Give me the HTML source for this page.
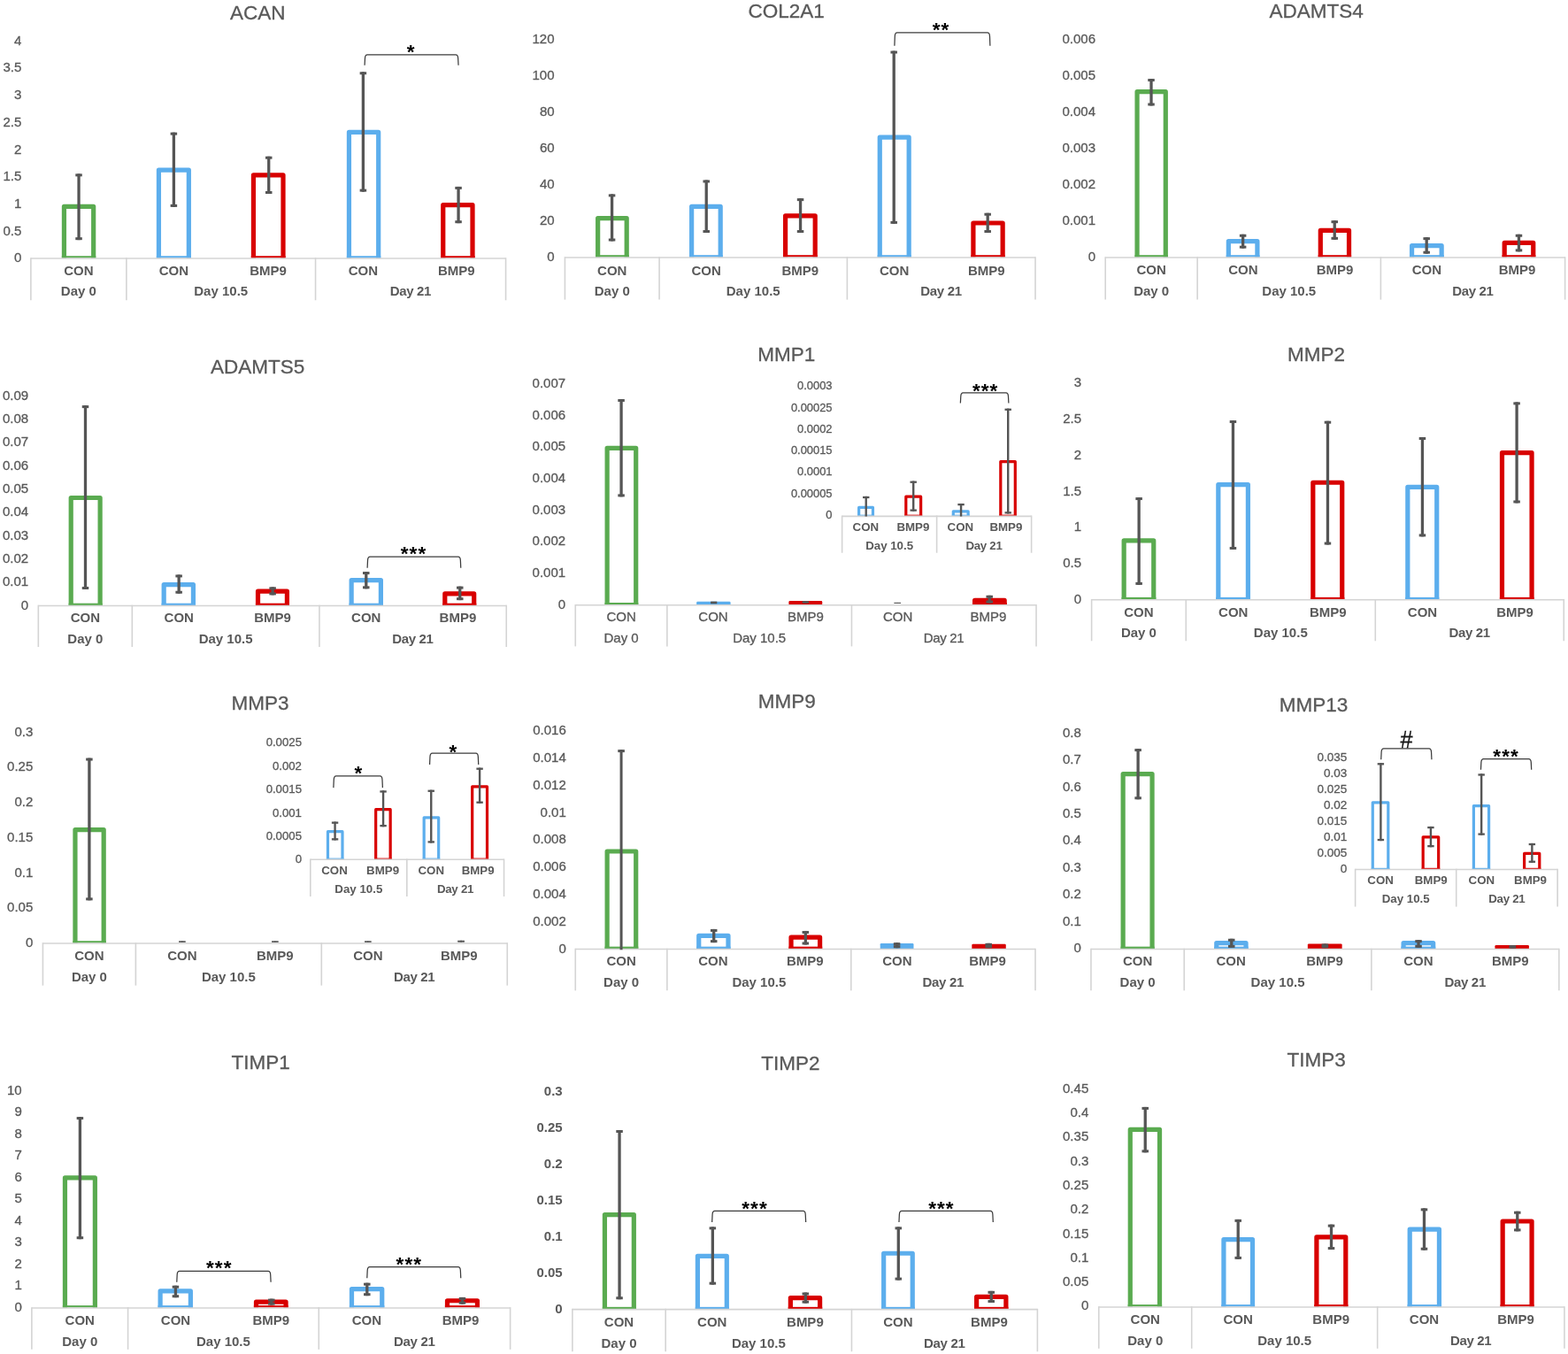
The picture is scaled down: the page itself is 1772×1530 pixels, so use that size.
<!DOCTYPE html>
<html lang="en">
<head>
<meta charset="utf-8">
<title>Gene expression charts</title>
<style>
html,body{margin:0;padding:0;background:#fff;}
body{width:1772px;height:1530px;overflow:hidden;}
svg{display:block;font-family:'Liberation Sans', Arial, Helvetica, sans-serif;filter:blur(0.35px);}
text{white-space:pre;}
</style>
</head>
<body>
<svg width="1772" height="1530" viewBox="0 0 1772 1530">
<rect width="1772" height="1530" fill="#fff"/>
<g>
<text x="24.38" y="50.78" font-size="15" text-anchor="end" fill="#595959" stroke="#595959" stroke-width="0.3">4</text>
<text x="24.38" y="81.47" font-size="15" text-anchor="end" fill="#595959" stroke="#595959" stroke-width="0.3">3.5</text>
<text x="24.38" y="112.15" font-size="15" text-anchor="end" fill="#595959" stroke="#595959" stroke-width="0.3">3</text>
<text x="24.38" y="142.84" font-size="15" text-anchor="end" fill="#595959" stroke="#595959" stroke-width="0.3">2.5</text>
<text x="24.38" y="173.53" font-size="15" text-anchor="end" fill="#595959" stroke="#595959" stroke-width="0.3">2</text>
<text x="24.38" y="204.21" font-size="15" text-anchor="end" fill="#595959" stroke="#595959" stroke-width="0.3">1.5</text>
<text x="24.38" y="234.9" font-size="15" text-anchor="end" fill="#595959" stroke="#595959" stroke-width="0.3">1</text>
<text x="24.38" y="265.58" font-size="15" text-anchor="end" fill="#595959" stroke="#595959" stroke-width="0.3">0.5</text>
<text x="24.38" y="296.27" font-size="15" text-anchor="end" fill="#595959" stroke="#595959" stroke-width="0.3">0</text>
<path d="M72.43 292.04V233.37H105.68V292.04" fill="none" stroke="#5aab50" stroke-width="5.2" stroke-linejoin="round"/>
<rect x="69.83" y="289.24" width="38.45" height="2.3" fill="#5aab50"/>
<path d="M179.43 292.04V192.06H213.35V292.04" fill="none" stroke="#5caeed" stroke-width="5.2" stroke-linejoin="round"/>
<rect x="176.83" y="289.24" width="39.12" height="2.3" fill="#5caeed"/>
<path d="M286.43 292.04V197.81H320.01V292.04" fill="none" stroke="#d80000" stroke-width="5.2" stroke-linejoin="round"/>
<rect x="283.83" y="289.24" width="38.79" height="2.3" fill="#d80000"/>
<path d="M394.44 292.04V149.39H427.69V292.04" fill="none" stroke="#5caeed" stroke-width="5.2" stroke-linejoin="round"/>
<rect x="391.84" y="289.24" width="38.45" height="2.3" fill="#5caeed"/>
<path d="M500.76 292.04V231.67H534.01V292.04" fill="none" stroke="#d80000" stroke-width="5.2" stroke-linejoin="round"/>
<rect x="498.16" y="289.24" width="38.45" height="2.3" fill="#d80000"/>
<line x1="34.88" y1="292.04" x2="571.56" y2="292.04" stroke="#d4d4d4" stroke-width="1.6"/>
<line x1="34.88" y1="291.24" x2="34.88" y2="339.28" stroke="#d4d4d4" stroke-width="1.6"/>
<line x1="142.89" y1="291.24" x2="142.89" y2="339.28" stroke="#d4d4d4" stroke-width="1.6"/>
<line x1="356.55" y1="291.24" x2="356.55" y2="339.28" stroke="#d4d4d4" stroke-width="1.6"/>
<line x1="571.56" y1="291.24" x2="571.56" y2="339.28" stroke="#d4d4d4" stroke-width="1.6"/>
<line x1="89.05" y1="196.37" x2="89.05" y2="271.17" stroke="#555555" stroke-width="3.3"/>
<rect x="85.3" y="196.37" width="7.5" height="3" fill="#555555"/>
<rect x="85.3" y="268.17" width="7.5" height="3" fill="#555555"/>
<line x1="196.39" y1="149.64" x2="196.39" y2="233.92" stroke="#555555" stroke-width="3.3"/>
<rect x="192.64" y="149.64" width="7.5" height="3" fill="#555555"/>
<rect x="192.64" y="230.92" width="7.5" height="3" fill="#555555"/>
<line x1="303.73" y1="176.73" x2="303.73" y2="219.02" stroke="#555555" stroke-width="3.3"/>
<rect x="299.98" y="176.73" width="7.5" height="3" fill="#555555"/>
<rect x="299.98" y="216.02" width="7.5" height="3" fill="#555555"/>
<line x1="410.39" y1="81.24" x2="410.39" y2="216.65" stroke="#555555" stroke-width="3.3"/>
<rect x="406.64" y="81.24" width="7.5" height="3" fill="#555555"/>
<rect x="406.64" y="213.65" width="7.5" height="3" fill="#555555"/>
<line x1="518.06" y1="210.93" x2="518.06" y2="252.21" stroke="#555555" stroke-width="3.3"/>
<rect x="514.31" y="210.93" width="7.5" height="3" fill="#555555"/>
<rect x="514.31" y="249.21" width="7.5" height="3" fill="#555555"/>
<text x="88.88" y="310.73" font-size="15" text-anchor="middle" fill="#595959" font-weight="700">CON</text>
<text x="196.31" y="310.73" font-size="15" text-anchor="middle" fill="#595959" font-weight="700">CON</text>
<text x="303.14" y="310.73" font-size="15" text-anchor="middle" fill="#595959" font-weight="700">BMP9</text>
<text x="410.3" y="310.73" font-size="15" text-anchor="middle" fill="#595959" font-weight="700">CON</text>
<text x="515.81" y="310.73" font-size="15" text-anchor="middle" fill="#595959" font-weight="700">BMP9</text>
<text x="88.88" y="334.43" font-size="15" text-anchor="middle" fill="#595959" font-weight="700">Day 0</text>
<text x="249.72" y="334.43" font-size="15" text-anchor="middle" fill="#595959" font-weight="700">Day 10.5</text>
<text x="463.89" y="334.43" font-size="15" text-anchor="middle" fill="#595959" font-weight="700" letter-spacing="-0.33">Day 21</text>
<path d="M412.08 73.82L412.48 65.96Q412.68 61.96 415.08 61.96H515.06Q517.46 61.96 517.66 65.96L518.06 73.82" fill="none" stroke="#3c3c3c" stroke-width="1.25"/>
<text x="464.78" y="66.46" font-size="22.5" letter-spacing="1.1" text-anchor="middle" fill="#000" font-weight="700">*</text>
<text x="291.2" y="22.48" font-size="22.5" text-anchor="middle" fill="#595959" stroke="#595959" stroke-width="0.3">ACAN</text>
</g>
<g>
<text x="626.57" y="49.43" font-size="15" text-anchor="end" fill="#595959" stroke="#595959" stroke-width="0.3">120</text>
<text x="626.57" y="90.4" font-size="15" text-anchor="end" fill="#595959" stroke="#595959" stroke-width="0.3">100</text>
<text x="626.57" y="131.37" font-size="15" text-anchor="end" fill="#595959" stroke="#595959" stroke-width="0.3">80</text>
<text x="626.57" y="172.34" font-size="15" text-anchor="end" fill="#595959" stroke="#595959" stroke-width="0.3">60</text>
<text x="626.57" y="213.31" font-size="15" text-anchor="end" fill="#595959" stroke="#595959" stroke-width="0.3">40</text>
<text x="626.57" y="254.28" font-size="15" text-anchor="end" fill="#595959" stroke="#595959" stroke-width="0.3">20</text>
<text x="626.57" y="295.25" font-size="15" text-anchor="end" fill="#595959" stroke="#595959" stroke-width="0.3">0</text>
<path d="M675.64 291.02V246.57H708.2V291.02" fill="none" stroke="#5aab50" stroke-width="5.2" stroke-linejoin="round"/>
<rect x="673.04" y="288.22" width="37.77" height="2.3" fill="#5aab50"/>
<path d="M781.62 291.02V233.37H814.19V291.02" fill="none" stroke="#5caeed" stroke-width="5.2" stroke-linejoin="round"/>
<rect x="779.02" y="288.22" width="37.77" height="2.3" fill="#5caeed"/>
<path d="M887.6 291.02V243.86H921.19V291.02" fill="none" stroke="#d80000" stroke-width="5.2" stroke-linejoin="round"/>
<rect x="885" y="288.22" width="38.79" height="2.3" fill="#d80000"/>
<path d="M994.26 291.02V155.15H1027.17V291.02" fill="none" stroke="#5caeed" stroke-width="5.2" stroke-linejoin="round"/>
<rect x="991.66" y="288.22" width="38.11" height="2.3" fill="#5caeed"/>
<path d="M1099.91 291.02V251.99H1133.15V291.02" fill="none" stroke="#d80000" stroke-width="5.2" stroke-linejoin="round"/>
<rect x="1097.31" y="288.22" width="38.45" height="2.3" fill="#d80000"/>
<line x1="638.42" y1="291.02" x2="1170.03" y2="291.02" stroke="#d4d4d4" stroke-width="1.6"/>
<line x1="638.42" y1="290.22" x2="638.42" y2="338.6" stroke="#d4d4d4" stroke-width="1.6"/>
<line x1="745.08" y1="290.22" x2="745.08" y2="338.6" stroke="#d4d4d4" stroke-width="1.6"/>
<line x1="957.39" y1="290.22" x2="957.39" y2="338.6" stroke="#d4d4d4" stroke-width="1.6"/>
<line x1="1170.03" y1="290.22" x2="1170.03" y2="338.6" stroke="#d4d4d4" stroke-width="1.6"/>
<line x1="691.58" y1="219.39" x2="691.58" y2="272.52" stroke="#555555" stroke-width="3.3"/>
<rect x="687.83" y="219.39" width="7.5" height="3" fill="#555555"/>
<rect x="687.83" y="269.52" width="7.5" height="3" fill="#555555"/>
<line x1="798.24" y1="203.48" x2="798.24" y2="263.04" stroke="#555555" stroke-width="3.3"/>
<rect x="794.49" y="203.48" width="7.5" height="3" fill="#555555"/>
<rect x="794.49" y="260.04" width="7.5" height="3" fill="#555555"/>
<line x1="904.56" y1="224.13" x2="904.56" y2="263.04" stroke="#555555" stroke-width="3.3"/>
<rect x="900.81" y="224.13" width="7.5" height="3" fill="#555555"/>
<rect x="900.81" y="260.04" width="7.5" height="3" fill="#555555"/>
<line x1="1010.21" y1="57.54" x2="1010.21" y2="252.88" stroke="#555555" stroke-width="3.3"/>
<rect x="1006.46" y="57.54" width="7.5" height="3" fill="#555555"/>
<rect x="1006.46" y="249.88" width="7.5" height="3" fill="#555555"/>
<line x1="1116.19" y1="240.72" x2="1116.19" y2="263.04" stroke="#555555" stroke-width="3.3"/>
<rect x="1112.44" y="240.72" width="7.5" height="3" fill="#555555"/>
<rect x="1112.44" y="260.04" width="7.5" height="3" fill="#555555"/>
<text x="691.75" y="310.73" font-size="15" text-anchor="middle" fill="#595959" font-weight="700">CON</text>
<text x="798.16" y="310.73" font-size="15" text-anchor="middle" fill="#595959" font-weight="700">CON</text>
<text x="904.31" y="310.73" font-size="15" text-anchor="middle" fill="#595959" font-weight="700">BMP9</text>
<text x="1010.55" y="310.73" font-size="15" text-anchor="middle" fill="#595959" font-weight="700">CON</text>
<text x="1114.87" y="310.73" font-size="15" text-anchor="middle" fill="#595959" font-weight="700">BMP9</text>
<text x="691.75" y="333.75" font-size="15" text-anchor="middle" fill="#595959" font-weight="700">Day 0</text>
<text x="851.23" y="333.75" font-size="15" text-anchor="middle" fill="#595959" font-weight="700">Day 10.5</text>
<text x="1063.54" y="333.75" font-size="15" text-anchor="middle" fill="#595959" font-weight="700" letter-spacing="-0.33">Day 21</text>
<path d="M1010.89 51.81L1011.29 40.91Q1011.49 36.91 1013.89 36.91H1115.9Q1118.3 36.91 1118.5 40.91L1118.9 51.81" fill="none" stroke="#3c3c3c" stroke-width="1.25"/>
<text x="1063.58" y="40.73" font-size="22.5" letter-spacing="1.1" text-anchor="middle" fill="#000" font-weight="700">**</text>
<text x="888.65" y="20.11" font-size="22.5" text-anchor="middle" fill="#595959" stroke="#595959" stroke-width="0.3">COL2A1</text>
</g>
<g>
<text x="1238.03" y="49.09" font-size="15" text-anchor="end" fill="#595959" stroke="#595959" stroke-width="0.3">0.006</text>
<text x="1238.03" y="90.12" font-size="15" text-anchor="end" fill="#595959" stroke="#595959" stroke-width="0.3">0.005</text>
<text x="1238.03" y="131.14" font-size="15" text-anchor="end" fill="#595959" stroke="#595959" stroke-width="0.3">0.004</text>
<text x="1238.03" y="172.17" font-size="15" text-anchor="end" fill="#595959" stroke="#595959" stroke-width="0.3">0.003</text>
<text x="1238.03" y="213.2" font-size="15" text-anchor="end" fill="#595959" stroke="#595959" stroke-width="0.3">0.002</text>
<text x="1238.03" y="254.23" font-size="15" text-anchor="end" fill="#595959" stroke="#595959" stroke-width="0.3">0.001</text>
<text x="1238.03" y="295.25" font-size="15" text-anchor="end" fill="#595959" stroke="#595959" stroke-width="0.3">0</text>
<path d="M1285.06 291.02V103.68H1317.29V291.02" fill="none" stroke="#5aab50" stroke-width="5.2" stroke-linejoin="round"/>
<rect x="1282.46" y="288.22" width="37.43" height="2.3" fill="#5aab50"/>
<path d="M1388.34 291.02V272.64H1420.91V291.02" fill="none" stroke="#5caeed" stroke-width="5.2" stroke-linejoin="round"/>
<rect x="1385.74" y="288.22" width="37.77" height="2.3" fill="#5caeed"/>
<path d="M1492.29 291.02V260.46H1524.52V291.02" fill="none" stroke="#d80000" stroke-width="5.2" stroke-linejoin="round"/>
<rect x="1489.69" y="288.22" width="37.43" height="2.3" fill="#d80000"/>
<path d="M1595.56 291.02V277.72H1629.15V291.02" fill="none" stroke="#5caeed" stroke-width="5.2" stroke-linejoin="round"/>
<rect x="1592.96" y="288.22" width="38.79" height="2.3" fill="#5caeed"/>
<path d="M1700.19 291.02V274.34H1732.76V291.02" fill="none" stroke="#d80000" stroke-width="5.2" stroke-linejoin="round"/>
<rect x="1697.59" y="288.22" width="37.77" height="2.3" fill="#d80000"/>
<line x1="1249.2" y1="291.02" x2="1768.62" y2="291.02" stroke="#d4d4d4" stroke-width="1.6"/>
<line x1="1249.2" y1="290.22" x2="1249.2" y2="338.6" stroke="#d4d4d4" stroke-width="1.6"/>
<line x1="1353.15" y1="290.22" x2="1353.15" y2="338.6" stroke="#d4d4d4" stroke-width="1.6"/>
<line x1="1560.38" y1="290.22" x2="1560.38" y2="338.6" stroke="#d4d4d4" stroke-width="1.6"/>
<line x1="1768.62" y1="290.22" x2="1768.62" y2="338.6" stroke="#d4d4d4" stroke-width="1.6"/>
<line x1="1301.01" y1="89.03" x2="1301.01" y2="119.47" stroke="#555555" stroke-width="3.3"/>
<rect x="1297.26" y="89.03" width="7.5" height="3" fill="#555555"/>
<rect x="1297.26" y="116.47" width="7.5" height="3" fill="#555555"/>
<line x1="1404.62" y1="264.77" x2="1404.62" y2="280.65" stroke="#555555" stroke-width="3.3"/>
<rect x="1400.87" y="264.77" width="7.5" height="3" fill="#555555"/>
<rect x="1400.87" y="277.65" width="7.5" height="3" fill="#555555"/>
<line x1="1508.23" y1="249.19" x2="1508.23" y2="270.83" stroke="#555555" stroke-width="3.3"/>
<rect x="1504.48" y="249.19" width="7.5" height="3" fill="#555555"/>
<rect x="1504.48" y="267.83" width="7.5" height="3" fill="#555555"/>
<line x1="1612.19" y1="268.15" x2="1612.19" y2="286.74" stroke="#555555" stroke-width="3.3"/>
<rect x="1608.44" y="268.15" width="7.5" height="3" fill="#555555"/>
<rect x="1608.44" y="283.74" width="7.5" height="3" fill="#555555"/>
<line x1="1716.48" y1="264.77" x2="1716.48" y2="284.37" stroke="#555555" stroke-width="3.3"/>
<rect x="1712.73" y="264.77" width="7.5" height="3" fill="#555555"/>
<rect x="1712.73" y="281.37" width="7.5" height="3" fill="#555555"/>
<text x="1301.18" y="310.05" font-size="15" text-anchor="middle" fill="#595959" font-weight="700">CON</text>
<text x="1404.96" y="310.05" font-size="15" text-anchor="middle" fill="#595959" font-weight="700">CON</text>
<text x="1508.57" y="310.05" font-size="15" text-anchor="middle" fill="#595959" font-weight="700">BMP9</text>
<text x="1612.44" y="310.05" font-size="15" text-anchor="middle" fill="#595959" font-weight="700">CON</text>
<text x="1714.56" y="310.05" font-size="15" text-anchor="middle" fill="#595959" font-weight="700">BMP9</text>
<text x="1301.18" y="333.75" font-size="15" text-anchor="middle" fill="#595959" font-weight="700">Day 0</text>
<text x="1456.77" y="333.75" font-size="15" text-anchor="middle" fill="#595959" font-weight="700">Day 10.5</text>
<text x="1664.33" y="333.75" font-size="15" text-anchor="middle" fill="#595959" font-weight="700" letter-spacing="-0.33">Day 21</text>
<text x="1487.58" y="20.11" font-size="22.5" text-anchor="middle" fill="#595959" stroke="#595959" stroke-width="0.3">ADAMTS4</text>
</g>
<g>
<text x="32.17" y="451.7" font-size="15" text-anchor="end" fill="#595959" stroke="#595959" stroke-width="0.3">0.09</text>
<text x="32.17" y="478.03" font-size="15" text-anchor="end" fill="#595959" stroke="#595959" stroke-width="0.3">0.08</text>
<text x="32.17" y="504.37" font-size="15" text-anchor="end" fill="#595959" stroke="#595959" stroke-width="0.3">0.07</text>
<text x="32.17" y="530.7" font-size="15" text-anchor="end" fill="#595959" stroke="#595959" stroke-width="0.3">0.06</text>
<text x="32.17" y="557.04" font-size="15" text-anchor="end" fill="#595959" stroke="#595959" stroke-width="0.3">0.05</text>
<text x="32.17" y="583.38" font-size="15" text-anchor="end" fill="#595959" stroke="#595959" stroke-width="0.3">0.04</text>
<text x="32.17" y="609.71" font-size="15" text-anchor="end" fill="#595959" stroke="#595959" stroke-width="0.3">0.03</text>
<text x="32.17" y="636.05" font-size="15" text-anchor="end" fill="#595959" stroke="#595959" stroke-width="0.3">0.02</text>
<text x="32.17" y="662.38" font-size="15" text-anchor="end" fill="#595959" stroke="#595959" stroke-width="0.3">0.01</text>
<text x="32.17" y="688.72" font-size="15" text-anchor="end" fill="#595959" stroke="#595959" stroke-width="0.3">0</text>
<path d="M80.22 684.49V562.5H113.13V684.49" fill="none" stroke="#5aab50" stroke-width="5.2" stroke-linejoin="round"/>
<rect x="77.62" y="681.69" width="38.11" height="2.3" fill="#5aab50"/>
<path d="M185.18 684.49V660.69H218.43V684.49" fill="none" stroke="#5caeed" stroke-width="5.2" stroke-linejoin="round"/>
<rect x="182.58" y="681.69" width="38.45" height="2.3" fill="#5caeed"/>
<path d="M291.51 684.49V668.14H324.41V684.49" fill="none" stroke="#d80000" stroke-width="5.2" stroke-linejoin="round"/>
<rect x="288.91" y="681.69" width="38.11" height="2.3" fill="#d80000"/>
<path d="M397.15 684.49V655.61H430.4V684.49" fill="none" stroke="#5caeed" stroke-width="5.2" stroke-linejoin="round"/>
<rect x="394.55" y="681.69" width="38.45" height="2.3" fill="#5caeed"/>
<path d="M502.8 684.49V670.85H535.7V684.49" fill="none" stroke="#d80000" stroke-width="5.2" stroke-linejoin="round"/>
<rect x="500.2" y="681.69" width="38.11" height="2.3" fill="#d80000"/>
<line x1="43.34" y1="684.49" x2="572.24" y2="684.49" stroke="#d4d4d4" stroke-width="1.6"/>
<line x1="43.34" y1="683.69" x2="43.34" y2="731.05" stroke="#d4d4d4" stroke-width="1.6"/>
<line x1="149.32" y1="683.69" x2="149.32" y2="731.05" stroke="#d4d4d4" stroke-width="1.6"/>
<line x1="360.95" y1="683.69" x2="360.95" y2="731.05" stroke="#d4d4d4" stroke-width="1.6"/>
<line x1="572.24" y1="683.69" x2="572.24" y2="731.05" stroke="#d4d4d4" stroke-width="1.6"/>
<line x1="96.5" y1="458.12" x2="96.5" y2="665.99" stroke="#555555" stroke-width="3.3"/>
<rect x="92.75" y="458.12" width="7.5" height="3" fill="#555555"/>
<rect x="92.75" y="662.99" width="7.5" height="3" fill="#555555"/>
<line x1="202.15" y1="649.43" x2="202.15" y2="670.73" stroke="#555555" stroke-width="3.3"/>
<rect x="198.4" y="649.43" width="7.5" height="3" fill="#555555"/>
<rect x="198.4" y="667.73" width="7.5" height="3" fill="#555555"/>
<line x1="308.13" y1="663.31" x2="308.13" y2="672.42" stroke="#555555" stroke-width="3.3"/>
<rect x="304.38" y="663.31" width="7.5" height="3" fill="#555555"/>
<rect x="304.38" y="669.42" width="7.5" height="3" fill="#555555"/>
<line x1="413.77" y1="646.04" x2="413.77" y2="665.31" stroke="#555555" stroke-width="3.3"/>
<rect x="410.02" y="646.04" width="7.5" height="3" fill="#555555"/>
<rect x="410.02" y="662.31" width="7.5" height="3" fill="#555555"/>
<line x1="519.76" y1="662.63" x2="519.76" y2="678.18" stroke="#555555" stroke-width="3.3"/>
<rect x="516.01" y="662.63" width="7.5" height="3" fill="#555555"/>
<rect x="516.01" y="675.18" width="7.5" height="3" fill="#555555"/>
<text x="96.33" y="703.18" font-size="15" text-anchor="middle" fill="#595959" font-weight="700">CON</text>
<text x="202.23" y="703.18" font-size="15" text-anchor="middle" fill="#595959" font-weight="700">CON</text>
<text x="308.05" y="703.18" font-size="15" text-anchor="middle" fill="#595959" font-weight="700">BMP9</text>
<text x="413.77" y="703.18" font-size="15" text-anchor="middle" fill="#595959" font-weight="700">CON</text>
<text x="517.42" y="703.18" font-size="15" text-anchor="middle" fill="#595959" font-weight="700">BMP9</text>
<text x="96.33" y="727.22" font-size="15" text-anchor="middle" fill="#595959" font-weight="700">Day 0</text>
<text x="255.14" y="727.22" font-size="15" text-anchor="middle" fill="#595959" font-weight="700">Day 10.5</text>
<text x="466.43" y="727.22" font-size="15" text-anchor="middle" fill="#595959" font-weight="700" letter-spacing="-0.33">Day 21</text>
<path d="M415.13 641.66L415.53 633.13Q415.73 629.13 418.13 629.13H517.77Q520.17 629.13 520.37 633.13L520.77 641.66" fill="none" stroke="#3c3c3c" stroke-width="1.25"/>
<text x="467.49" y="632.62" font-size="22.5" letter-spacing="1.1" text-anchor="middle" fill="#000" font-weight="700">***</text>
<text x="291.2" y="422.04" font-size="22.5" text-anchor="middle" fill="#595959" stroke="#595959" stroke-width="0.3">ADAMTS5</text>
</g>
<g>
<text x="639.1" y="438.15" font-size="15" text-anchor="end" fill="#595959" stroke="#595959" stroke-width="0.3">0.007</text>
<text x="639.1" y="473.8" font-size="15" text-anchor="end" fill="#595959" stroke="#595959" stroke-width="0.3">0.006</text>
<text x="639.1" y="509.45" font-size="15" text-anchor="end" fill="#595959" stroke="#595959" stroke-width="0.3">0.005</text>
<text x="639.1" y="545.1" font-size="15" text-anchor="end" fill="#595959" stroke="#595959" stroke-width="0.3">0.004</text>
<text x="639.1" y="580.75" font-size="15" text-anchor="end" fill="#595959" stroke="#595959" stroke-width="0.3">0.003</text>
<text x="639.1" y="616.4" font-size="15" text-anchor="end" fill="#595959" stroke="#595959" stroke-width="0.3">0.002</text>
<text x="639.1" y="652.05" font-size="15" text-anchor="end" fill="#595959" stroke="#595959" stroke-width="0.3">0.001</text>
<text x="639.1" y="687.7" font-size="15" text-anchor="end" fill="#595959" stroke="#595959" stroke-width="0.3">0</text>
<path d="M686.13 683.81V506.29H718.7V683.81" fill="none" stroke="#5aab50" stroke-width="5.2" stroke-linejoin="round"/>
<rect x="683.53" y="681.01" width="37.77" height="2.3" fill="#5aab50"/>
<rect x="787.14" y="679.76" width="38.45" height="4.05" rx="1.2" fill="#5caeed"/>
<rect x="891.44" y="679.09" width="37.77" height="4.72" rx="1.2" fill="#d80000"/>
<path d="M1101.6 683.81V678.3H1135.18V683.81" fill="none" stroke="#d80000" stroke-width="5.2" stroke-linejoin="round"/>
<rect x="1099" y="681.01" width="38.79" height="2.3" fill="#d80000"/>
<line x1="650.27" y1="683.81" x2="1171.04" y2="683.81" stroke="#d4d4d4" stroke-width="1.6"/>
<line x1="650.27" y1="683.01" x2="650.27" y2="730.38" stroke="#d4d4d4" stroke-width="1.6"/>
<line x1="753.88" y1="683.01" x2="753.88" y2="730.38" stroke="#d4d4d4" stroke-width="1.6"/>
<line x1="962.46" y1="683.01" x2="962.46" y2="730.38" stroke="#d4d4d4" stroke-width="1.6"/>
<line x1="1171.04" y1="683.01" x2="1171.04" y2="730.38" stroke="#d4d4d4" stroke-width="1.6"/>
<line x1="702.08" y1="451.01" x2="702.08" y2="561.36" stroke="#555555" stroke-width="3.3"/>
<rect x="698.33" y="451.01" width="7.5" height="3" fill="#555555"/>
<rect x="698.33" y="558.36" width="7.5" height="3" fill="#555555"/>
<line x1="806.71" y1="680.26" x2="806.71" y2="681.62" stroke="#555555" stroke-width="2"/>
<rect x="803.21" y="680.26" width="7" height="2" fill="#555555"/>
<rect x="803.21" y="679.62" width="7" height="2" fill="#555555"/>
<line x1="910.32" y1="679.25" x2="910.32" y2="681.62" stroke="#555555" stroke-width="2"/>
<rect x="906.82" y="679.25" width="7" height="2" fill="#555555"/>
<rect x="906.82" y="679.62" width="7" height="2" fill="#555555"/>
<line x1="1014.27" y1="680.94" x2="1014.27" y2="681.79" stroke="#555555" stroke-width="0.9"/>
<rect x="1010.52" y="680.94" width="7.5" height="0.9" fill="#555555"/>
<rect x="1010.52" y="680.89" width="7.5" height="0.9" fill="#555555"/>
<line x1="1118.22" y1="672.79" x2="1118.22" y2="681.56" stroke="#555555" stroke-width="3.3"/>
<rect x="1114.47" y="672.79" width="7.5" height="3" fill="#555555"/>
<rect x="1114.47" y="678.56" width="7.5" height="3" fill="#555555"/>
<text x="702.08" y="701.66" font-size="15" text-anchor="middle" fill="#595959" stroke="#595959" stroke-width="0.3">CON</text>
<text x="806.03" y="701.66" font-size="15" text-anchor="middle" fill="#595959" stroke="#595959" stroke-width="0.3">CON</text>
<text x="910.32" y="701.66" font-size="15" text-anchor="middle" fill="#595959" stroke="#595959" stroke-width="0.3">BMP9</text>
<text x="1014.61" y="701.66" font-size="15" text-anchor="middle" fill="#595959" stroke="#595959" stroke-width="0.3">CON</text>
<text x="1116.9" y="701.66" font-size="15" text-anchor="middle" fill="#595959" stroke="#595959" stroke-width="0.3">BMP9</text>
<text x="702.08" y="726.03" font-size="15" text-anchor="middle" fill="#595959" stroke="#595959" stroke-width="0.3">Day 0</text>
<text x="858.17" y="726.03" font-size="15" text-anchor="middle" fill="#595959" stroke="#595959" stroke-width="0.3">Day 10.5</text>
<text x="1066.59" y="726.03" font-size="15" text-anchor="middle" fill="#595959" stroke="#595959" stroke-width="0.3" letter-spacing="-0.33">Day 21</text>
<text x="888.65" y="408.49" font-size="22.5" text-anchor="middle" fill="#595959" stroke="#595959" stroke-width="0.3">MMP1</text>
</g>
<g>
<text x="940.53" y="440.29" font-size="12.9" text-anchor="end" fill="#595959" stroke="#595959" stroke-width="0.3">0.0003</text>
<text x="940.53" y="464.55" font-size="12.9" text-anchor="end" fill="#595959" stroke="#595959" stroke-width="0.3">0.00025</text>
<text x="940.53" y="488.82" font-size="12.9" text-anchor="end" fill="#595959" stroke="#595959" stroke-width="0.3">0.0002</text>
<text x="940.53" y="513.09" font-size="12.9" text-anchor="end" fill="#595959" stroke="#595959" stroke-width="0.3">0.00015</text>
<text x="940.53" y="537.35" font-size="12.9" text-anchor="end" fill="#595959" stroke="#595959" stroke-width="0.3">0.0001</text>
<text x="940.53" y="561.62" font-size="12.9" text-anchor="end" fill="#595959" stroke="#595959" stroke-width="0.3">0.00005</text>
<text x="940.53" y="585.89" font-size="12.9" text-anchor="end" fill="#595959" stroke="#595959" stroke-width="0.3">0</text>
<path d="M970.64 583.34V573.41H986.46V583.34" fill="none" stroke="#5caeed" stroke-width="3.2" stroke-linejoin="round"/>
<rect x="969.04" y="581.64" width="19.02" height="1.2" fill="#5caeed"/>
<path d="M1023.8 583.34V561.22H1040.64V583.34" fill="none" stroke="#d80000" stroke-width="3.2" stroke-linejoin="round"/>
<rect x="1022.2" y="581.64" width="20.04" height="1.2" fill="#d80000"/>
<path d="M1077.3 583.34V577.81H1094.14V583.34" fill="none" stroke="#5caeed" stroke-width="3.2" stroke-linejoin="round"/>
<rect x="1075.7" y="581.64" width="20.04" height="1.2" fill="#5caeed"/>
<path d="M1130.8 583.34V521.6H1147.3V583.34" fill="none" stroke="#d80000" stroke-width="3.2" stroke-linejoin="round"/>
<rect x="1129.2" y="581.64" width="19.7" height="1.2" fill="#d80000"/>
<line x1="951.63" y1="583.34" x2="1165.63" y2="583.34" stroke="#d4d4d4" stroke-width="1.6"/>
<line x1="951.63" y1="582.54" x2="951.63" y2="624.73" stroke="#d4d4d4" stroke-width="1.6"/>
<line x1="1058.63" y1="582.54" x2="1058.63" y2="624.73" stroke="#d4d4d4" stroke-width="1.6"/>
<line x1="1165.63" y1="582.54" x2="1165.63" y2="624.73" stroke="#d4d4d4" stroke-width="1.6"/>
<line x1="978.72" y1="560.85" x2="978.72" y2="583.54" stroke="#555555" stroke-width="2.4"/>
<rect x="975.02" y="560.85" width="7.4" height="2.3" fill="#555555"/>
<line x1="1032.22" y1="543.58" x2="1032.22" y2="577.79" stroke="#555555" stroke-width="2.4"/>
<rect x="1028.52" y="543.58" width="7.4" height="2.3" fill="#555555"/>
<rect x="1028.52" y="575.49" width="7.4" height="2.3" fill="#555555"/>
<line x1="1086.06" y1="568.98" x2="1086.06" y2="583.54" stroke="#555555" stroke-width="2.4"/>
<rect x="1082.36" y="568.98" width="7.4" height="2.3" fill="#555555"/>
<line x1="1139.22" y1="461.64" x2="1139.22" y2="580.5" stroke="#555555" stroke-width="2.4"/>
<rect x="1135.52" y="461.64" width="7.4" height="2.3" fill="#555555"/>
<rect x="1135.52" y="578.2" width="7.4" height="2.3" fill="#555555"/>
<text x="978.38" y="599.53" font-size="13.3" text-anchor="middle" fill="#595959" font-weight="700">CON</text>
<text x="1031.88" y="599.53" font-size="13.3" text-anchor="middle" fill="#595959" font-weight="700">BMP9</text>
<text x="1085.38" y="599.53" font-size="13.3" text-anchor="middle" fill="#595959" font-weight="700">CON</text>
<text x="1136.88" y="599.53" font-size="13.3" text-anchor="middle" fill="#595959" font-weight="700">BMP9</text>
<text x="1005.13" y="620.81" font-size="13.3" text-anchor="middle" fill="#595959" font-weight="700">Day 10.5</text>
<text x="1111.98" y="620.81" font-size="13.3" text-anchor="middle" fill="#595959" font-weight="700" letter-spacing="-0.29">Day 21</text>
<path d="M1085.38 455.43L1085.78 447.92Q1085.98 443.92 1088.38 443.92H1136.89Q1139.29 443.92 1139.49 447.92L1139.89 455.43" fill="none" stroke="#3c3c3c" stroke-width="1.25"/>
<text x="1113.69" y="448.76" font-size="22.5" letter-spacing="1.1" text-anchor="middle" fill="#000" font-weight="700">***</text>
</g>
<g>
<text x="1222.11" y="437.47" font-size="15" text-anchor="end" fill="#595959" stroke="#595959" stroke-width="0.3">3</text>
<text x="1222.11" y="478.22" font-size="15" text-anchor="end" fill="#595959" stroke="#595959" stroke-width="0.3">2.5</text>
<text x="1222.11" y="518.97" font-size="15" text-anchor="end" fill="#595959" stroke="#595959" stroke-width="0.3">2</text>
<text x="1222.11" y="559.71" font-size="15" text-anchor="end" fill="#595959" stroke="#595959" stroke-width="0.3">1.5</text>
<text x="1222.11" y="600.46" font-size="15" text-anchor="end" fill="#595959" stroke="#595959" stroke-width="0.3">1</text>
<text x="1222.11" y="641.2" font-size="15" text-anchor="end" fill="#595959" stroke="#595959" stroke-width="0.3">0.5</text>
<text x="1222.11" y="681.95" font-size="15" text-anchor="end" fill="#595959" stroke="#595959" stroke-width="0.3">0</text>
<path d="M1270.16 677.72V610.92H1303.75V677.72" fill="none" stroke="#5aab50" stroke-width="5.2" stroke-linejoin="round"/>
<rect x="1267.56" y="674.92" width="38.79" height="2.3" fill="#5aab50"/>
<path d="M1376.82 677.72V547.6H1410.41V677.72" fill="none" stroke="#5caeed" stroke-width="5.2" stroke-linejoin="round"/>
<rect x="1374.22" y="674.92" width="38.79" height="2.3" fill="#5caeed"/>
<path d="M1483.82 677.72V545.23H1516.73V677.72" fill="none" stroke="#d80000" stroke-width="5.2" stroke-linejoin="round"/>
<rect x="1481.22" y="674.92" width="38.11" height="2.3" fill="#d80000"/>
<path d="M1590.82 677.72V550.31H1623.73V677.72" fill="none" stroke="#5caeed" stroke-width="5.2" stroke-linejoin="round"/>
<rect x="1588.22" y="674.92" width="38.11" height="2.3" fill="#5caeed"/>
<path d="M1697.48 677.72V511.71H1731.07V677.72" fill="none" stroke="#d80000" stroke-width="5.2" stroke-linejoin="round"/>
<rect x="1694.88" y="674.92" width="38.79" height="2.3" fill="#d80000"/>
<line x1="1233.63" y1="677.72" x2="1767.27" y2="677.72" stroke="#d4d4d4" stroke-width="1.6"/>
<line x1="1233.63" y1="676.92" x2="1233.63" y2="724.28" stroke="#d4d4d4" stroke-width="1.6"/>
<line x1="1340.29" y1="676.92" x2="1340.29" y2="724.28" stroke="#d4d4d4" stroke-width="1.6"/>
<line x1="1554.28" y1="676.92" x2="1554.28" y2="724.28" stroke="#d4d4d4" stroke-width="1.6"/>
<line x1="1767.27" y1="676.92" x2="1767.27" y2="724.28" stroke="#d4d4d4" stroke-width="1.6"/>
<line x1="1287.13" y1="562.07" x2="1287.13" y2="660.91" stroke="#555555" stroke-width="3.3"/>
<rect x="1283.38" y="562.07" width="7.5" height="3" fill="#555555"/>
<rect x="1283.38" y="657.91" width="7.5" height="3" fill="#555555"/>
<line x1="1393.45" y1="475.05" x2="1393.45" y2="620.95" stroke="#555555" stroke-width="3.3"/>
<rect x="1389.7" y="475.05" width="7.5" height="3" fill="#555555"/>
<rect x="1389.7" y="617.95" width="7.5" height="3" fill="#555555"/>
<line x1="1500.45" y1="475.72" x2="1500.45" y2="615.54" stroke="#555555" stroke-width="3.3"/>
<rect x="1496.7" y="475.72" width="7.5" height="3" fill="#555555"/>
<rect x="1496.7" y="612.54" width="7.5" height="3" fill="#555555"/>
<line x1="1607.45" y1="494.01" x2="1607.45" y2="606.39" stroke="#555555" stroke-width="3.3"/>
<rect x="1603.7" y="494.01" width="7.5" height="3" fill="#555555"/>
<rect x="1603.7" y="603.39" width="7.5" height="3" fill="#555555"/>
<line x1="1714.11" y1="454.39" x2="1714.11" y2="568.47" stroke="#555555" stroke-width="3.3"/>
<rect x="1710.36" y="454.39" width="7.5" height="3" fill="#555555"/>
<rect x="1710.36" y="565.47" width="7.5" height="3" fill="#555555"/>
<text x="1286.96" y="696.75" font-size="15" text-anchor="middle" fill="#595959" font-weight="700">CON</text>
<text x="1393.79" y="696.75" font-size="15" text-anchor="middle" fill="#595959" font-weight="700">CON</text>
<text x="1500.78" y="696.75" font-size="15" text-anchor="middle" fill="#595959" font-weight="700">BMP9</text>
<text x="1607.53" y="696.75" font-size="15" text-anchor="middle" fill="#595959" font-weight="700">CON</text>
<text x="1712.02" y="696.75" font-size="15" text-anchor="middle" fill="#595959" font-weight="700">BMP9</text>
<text x="1286.96" y="720.45" font-size="15" text-anchor="middle" fill="#595959" font-weight="700">Day 0</text>
<text x="1447.29" y="720.45" font-size="15" text-anchor="middle" fill="#595959" font-weight="700">Day 10.5</text>
<text x="1660.61" y="720.45" font-size="15" text-anchor="middle" fill="#595959" font-weight="700" letter-spacing="-0.33">Day 21</text>
<text x="1487.58" y="407.81" font-size="22.5" text-anchor="middle" fill="#595959" stroke="#595959" stroke-width="0.3">MMP2</text>
</g>
<g>
<text x="37.25" y="831.54" font-size="15" text-anchor="end" fill="#595959" stroke="#595959" stroke-width="0.3">0.3</text>
<text x="37.25" y="871.32" font-size="15" text-anchor="end" fill="#595959" stroke="#595959" stroke-width="0.3">0.25</text>
<text x="37.25" y="911.11" font-size="15" text-anchor="end" fill="#595959" stroke="#595959" stroke-width="0.3">0.2</text>
<text x="37.25" y="950.9" font-size="15" text-anchor="end" fill="#595959" stroke="#595959" stroke-width="0.3">0.15</text>
<text x="37.25" y="990.68" font-size="15" text-anchor="end" fill="#595959" stroke="#595959" stroke-width="0.3">0.1</text>
<text x="37.25" y="1030.47" font-size="15" text-anchor="end" fill="#595959" stroke="#595959" stroke-width="0.3">0.05</text>
<text x="37.25" y="1070.25" font-size="15" text-anchor="end" fill="#595959" stroke="#595959" stroke-width="0.3">0</text>
<path d="M84.96 1066.02V937.6H117.19V1066.02" fill="none" stroke="#5aab50" stroke-width="5.2" stroke-linejoin="round"/>
<rect x="82.36" y="1063.22" width="37.43" height="2.3" fill="#5aab50"/>
<line x1="48.42" y1="1066.02" x2="573.26" y2="1066.02" stroke="#d4d4d4" stroke-width="1.6"/>
<line x1="48.42" y1="1065.22" x2="48.42" y2="1113.6" stroke="#d4d4d4" stroke-width="1.6"/>
<line x1="153.39" y1="1065.22" x2="153.39" y2="1113.6" stroke="#d4d4d4" stroke-width="1.6"/>
<line x1="363.32" y1="1065.22" x2="363.32" y2="1113.6" stroke="#d4d4d4" stroke-width="1.6"/>
<line x1="573.26" y1="1065.22" x2="573.26" y2="1113.6" stroke="#d4d4d4" stroke-width="1.6"/>
<line x1="100.9" y1="856.58" x2="100.9" y2="1017.39" stroke="#555555" stroke-width="3.3"/>
<rect x="97.15" y="856.58" width="7.5" height="3" fill="#555555"/>
<rect x="97.15" y="1014.39" width="7.5" height="3" fill="#555555"/>
<line x1="205.87" y1="1063.49" x2="205.87" y2="1064.68" stroke="#555555" stroke-width="1.2"/>
<rect x="202.12" y="1063.49" width="7.5" height="1.2" fill="#555555"/>
<rect x="202.12" y="1063.48" width="7.5" height="1.2" fill="#555555"/>
<line x1="310.84" y1="1063.49" x2="310.84" y2="1064.68" stroke="#555555" stroke-width="1.2"/>
<rect x="307.09" y="1063.49" width="7.5" height="1.2" fill="#555555"/>
<rect x="307.09" y="1063.48" width="7.5" height="1.2" fill="#555555"/>
<line x1="415.81" y1="1063.49" x2="415.81" y2="1064.68" stroke="#555555" stroke-width="1.2"/>
<rect x="412.06" y="1063.49" width="7.5" height="1.2" fill="#555555"/>
<rect x="412.06" y="1063.48" width="7.5" height="1.2" fill="#555555"/>
<line x1="521.11" y1="1062.81" x2="521.11" y2="1064.51" stroke="#555555" stroke-width="1.6"/>
<rect x="517.36" y="1062.81" width="7.5" height="1.6" fill="#555555"/>
<rect x="517.36" y="1062.91" width="7.5" height="1.6" fill="#555555"/>
<text x="100.9" y="1085.05" font-size="15" text-anchor="middle" fill="#595959" font-weight="700">CON</text>
<text x="205.87" y="1085.05" font-size="15" text-anchor="middle" fill="#595959" font-weight="700">CON</text>
<text x="310.84" y="1085.05" font-size="15" text-anchor="middle" fill="#595959" font-weight="700">BMP9</text>
<text x="415.81" y="1085.05" font-size="15" text-anchor="middle" fill="#595959" font-weight="700">CON</text>
<text x="518.77" y="1085.05" font-size="15" text-anchor="middle" fill="#595959" font-weight="700">BMP9</text>
<text x="100.9" y="1108.75" font-size="15" text-anchor="middle" fill="#595959" font-weight="700">Day 0</text>
<text x="258.36" y="1108.75" font-size="15" text-anchor="middle" fill="#595959" font-weight="700">Day 10.5</text>
<text x="468.12" y="1108.75" font-size="15" text-anchor="middle" fill="#595959" font-weight="700" letter-spacing="-0.33">Day 21</text>
<text x="293.91" y="801.88" font-size="22.5" text-anchor="middle" fill="#595959" stroke="#595959" stroke-width="0.3">MMP3</text>
</g>
<g>
<text x="340.97" y="843.34" font-size="13.2" text-anchor="end" fill="#595959" stroke="#595959" stroke-width="0.3">0.0025</text>
<text x="340.97" y="869.76" font-size="13.2" text-anchor="end" fill="#595959" stroke="#595959" stroke-width="0.3">0.002</text>
<text x="340.97" y="896.17" font-size="13.2" text-anchor="end" fill="#595959" stroke="#595959" stroke-width="0.3">0.0015</text>
<text x="340.97" y="922.58" font-size="13.2" text-anchor="end" fill="#595959" stroke="#595959" stroke-width="0.3">0.001</text>
<text x="340.97" y="948.99" font-size="13.2" text-anchor="end" fill="#595959" stroke="#595959" stroke-width="0.3">0.0005</text>
<text x="340.97" y="975.4" font-size="13.2" text-anchor="end" fill="#595959" stroke="#595959" stroke-width="0.3">0</text>
<path d="M370.48 971.31V939.71H386.98V971.31" fill="none" stroke="#5caeed" stroke-width="3.2" stroke-linejoin="round"/>
<rect x="368.88" y="969.61" width="19.7" height="1.2" fill="#5caeed"/>
<path d="M424.66 971.31V914.65H441.16V971.31" fill="none" stroke="#d80000" stroke-width="3.2" stroke-linejoin="round"/>
<rect x="423.06" y="969.61" width="19.7" height="1.2" fill="#d80000"/>
<path d="M479.17 971.31V923.79H495.67V971.31" fill="none" stroke="#5caeed" stroke-width="3.2" stroke-linejoin="round"/>
<rect x="477.57" y="969.61" width="19.7" height="1.2" fill="#5caeed"/>
<path d="M533.69 971.31V888.92H550.52V971.31" fill="none" stroke="#d80000" stroke-width="3.2" stroke-linejoin="round"/>
<rect x="532.09" y="969.61" width="20.04" height="1.2" fill="#d80000"/>
<line x1="350.79" y1="971.31" x2="569.53" y2="971.31" stroke="#d4d4d4" stroke-width="1.6"/>
<line x1="350.79" y1="970.51" x2="350.79" y2="1013.04" stroke="#d4d4d4" stroke-width="1.6"/>
<line x1="459.82" y1="970.51" x2="459.82" y2="1013.04" stroke="#d4d4d4" stroke-width="1.6"/>
<line x1="569.53" y1="970.51" x2="569.53" y2="1013.04" stroke="#d4d4d4" stroke-width="1.6"/>
<line x1="378.56" y1="928.5" x2="378.56" y2="949.5" stroke="#555555" stroke-width="2.4"/>
<rect x="374.86" y="928.5" width="7.4" height="2.3" fill="#555555"/>
<rect x="374.86" y="947.2" width="7.4" height="2.3" fill="#555555"/>
<line x1="433.07" y1="893.29" x2="433.07" y2="934.27" stroke="#555555" stroke-width="2.4"/>
<rect x="429.37" y="893.29" width="7.4" height="2.3" fill="#555555"/>
<rect x="429.37" y="931.97" width="7.4" height="2.3" fill="#555555"/>
<line x1="487.25" y1="892.61" x2="487.25" y2="952.55" stroke="#555555" stroke-width="2.4"/>
<rect x="483.55" y="892.61" width="7.4" height="2.3" fill="#555555"/>
<rect x="483.55" y="950.25" width="7.4" height="2.3" fill="#555555"/>
<line x1="542.11" y1="867.55" x2="542.11" y2="907.86" stroke="#555555" stroke-width="2.4"/>
<rect x="538.41" y="867.55" width="7.4" height="2.3" fill="#555555"/>
<rect x="538.41" y="905.56" width="7.4" height="2.3" fill="#555555"/>
<text x="378.05" y="987.5" font-size="13.3" text-anchor="middle" fill="#595959" font-weight="700">CON</text>
<text x="432.57" y="987.5" font-size="13.3" text-anchor="middle" fill="#595959" font-weight="700">BMP9</text>
<text x="487.25" y="987.5" font-size="13.3" text-anchor="middle" fill="#595959" font-weight="700">CON</text>
<text x="540.11" y="987.5" font-size="13.3" text-anchor="middle" fill="#595959" font-weight="700">BMP9</text>
<text x="405.31" y="1008.77" font-size="13.3" text-anchor="middle" fill="#595959" font-weight="700">Day 10.5</text>
<text x="514.53" y="1008.77" font-size="13.3" text-anchor="middle" fill="#595959" font-weight="700" letter-spacing="-0.29">Day 21</text>
<path d="M376.87 890.13L377.27 880.92Q377.47 876.92 379.87 876.92H429.4Q431.8 876.92 432 880.92L432.4 890.13" fill="none" stroke="#3c3c3c" stroke-width="1.25"/>
<text x="405.52" y="881.08" font-size="22.5" letter-spacing="1.1" text-anchor="middle" fill="#000" font-weight="700">*</text>
<path d="M485.56 864.05L485.96 855.19Q486.16 851.19 488.56 851.19H537.75Q540.15 851.19 540.35 855.19L540.75 864.05" fill="none" stroke="#3c3c3c" stroke-width="1.25"/>
<text x="512.52" y="856.7" font-size="22.5" letter-spacing="1.1" text-anchor="middle" fill="#000" font-weight="700">*</text>
</g>
<g>
<text x="639.77" y="830.18" font-size="15" text-anchor="end" fill="#595959" stroke="#595959" stroke-width="0.3">0.016</text>
<text x="639.77" y="861" font-size="15" text-anchor="end" fill="#595959" stroke="#595959" stroke-width="0.3">0.014</text>
<text x="639.77" y="891.81" font-size="15" text-anchor="end" fill="#595959" stroke="#595959" stroke-width="0.3">0.012</text>
<text x="639.77" y="922.62" font-size="15" text-anchor="end" fill="#595959" stroke="#595959" stroke-width="0.3">0.01</text>
<text x="639.77" y="953.44" font-size="15" text-anchor="end" fill="#595959" stroke="#595959" stroke-width="0.3">0.008</text>
<text x="639.77" y="984.25" font-size="15" text-anchor="end" fill="#595959" stroke="#595959" stroke-width="0.3">0.006</text>
<text x="639.77" y="1015.06" font-size="15" text-anchor="end" fill="#595959" stroke="#595959" stroke-width="0.3">0.004</text>
<text x="639.77" y="1045.87" font-size="15" text-anchor="end" fill="#595959" stroke="#595959" stroke-width="0.3">0.002</text>
<text x="639.77" y="1076.69" font-size="15" text-anchor="end" fill="#595959" stroke="#595959" stroke-width="0.3">0</text>
<path d="M686.13 1072.46V961.98H718.7V1072.46" fill="none" stroke="#5aab50" stroke-width="5.2" stroke-linejoin="round"/>
<rect x="683.53" y="1069.66" width="37.77" height="2.3" fill="#5aab50"/>
<path d="M789.74 1072.46V1057.46H822.99V1072.46" fill="none" stroke="#5caeed" stroke-width="5.2" stroke-linejoin="round"/>
<rect x="787.14" y="1069.66" width="38.45" height="2.3" fill="#5caeed"/>
<path d="M894.04 1072.46V1059.16H926.6V1072.46" fill="none" stroke="#d80000" stroke-width="5.2" stroke-linejoin="round"/>
<rect x="891.44" y="1069.66" width="37.77" height="2.3" fill="#d80000"/>
<rect x="994.71" y="1066.04" width="37.77" height="6.42" rx="1.2" fill="#5caeed"/>
<rect x="1098.32" y="1066.72" width="38.45" height="5.74" rx="1.2" fill="#d80000"/>
<line x1="650.27" y1="1072.46" x2="1170.03" y2="1072.46" stroke="#d4d4d4" stroke-width="1.6"/>
<line x1="650.27" y1="1071.66" x2="650.27" y2="1119.36" stroke="#d4d4d4" stroke-width="1.6"/>
<line x1="753.88" y1="1071.66" x2="753.88" y2="1119.36" stroke="#d4d4d4" stroke-width="1.6"/>
<line x1="961.79" y1="1071.66" x2="961.79" y2="1119.36" stroke="#d4d4d4" stroke-width="1.6"/>
<line x1="1170.03" y1="1071.66" x2="1170.03" y2="1119.36" stroke="#d4d4d4" stroke-width="1.6"/>
<line x1="702.08" y1="847.1" x2="702.08" y2="1073.26" stroke="#555555" stroke-width="3"/>
<rect x="698.28" y="847.1" width="7.6" height="3" fill="#555555"/>
<line x1="806.71" y1="1049.92" x2="806.71" y2="1065.13" stroke="#555555" stroke-width="3.3"/>
<rect x="802.96" y="1049.92" width="7.5" height="3" fill="#555555"/>
<rect x="802.96" y="1062.13" width="7.5" height="3" fill="#555555"/>
<line x1="910.32" y1="1051.96" x2="910.32" y2="1067.5" stroke="#555555" stroke-width="3.3"/>
<rect x="906.57" y="1051.96" width="7.5" height="3" fill="#555555"/>
<rect x="906.57" y="1064.5" width="7.5" height="3" fill="#555555"/>
<line x1="1013.59" y1="1065.16" x2="1013.59" y2="1071.22" stroke="#555555" stroke-width="3.3"/>
<rect x="1009.84" y="1065.16" width="7.5" height="3" fill="#555555"/>
<rect x="1009.84" y="1068.22" width="7.5" height="3" fill="#555555"/>
<line x1="1117.21" y1="1065.84" x2="1117.21" y2="1071.22" stroke="#555555" stroke-width="3.3"/>
<rect x="1113.46" y="1065.84" width="7.5" height="3" fill="#555555"/>
<rect x="1113.46" y="1068.22" width="7.5" height="3" fill="#555555"/>
<text x="702.08" y="1090.81" font-size="15" text-anchor="middle" fill="#595959" font-weight="700">CON</text>
<text x="805.86" y="1090.81" font-size="15" text-anchor="middle" fill="#595959" font-weight="700">CON</text>
<text x="909.81" y="1090.81" font-size="15" text-anchor="middle" fill="#595959" font-weight="700">BMP9</text>
<text x="1013.85" y="1090.81" font-size="15" text-anchor="middle" fill="#595959" font-weight="700">CON</text>
<text x="1115.97" y="1090.81" font-size="15" text-anchor="middle" fill="#595959" font-weight="700">BMP9</text>
<text x="702.08" y="1115.19" font-size="15" text-anchor="middle" fill="#595959" font-weight="700">Day 0</text>
<text x="857.84" y="1115.19" font-size="15" text-anchor="middle" fill="#595959" font-weight="700">Day 10.5</text>
<text x="1065.74" y="1115.19" font-size="15" text-anchor="middle" fill="#595959" font-weight="700" letter-spacing="-0.33">Day 21</text>
<text x="889.33" y="800.19" font-size="22.5" text-anchor="middle" fill="#595959" stroke="#595959" stroke-width="0.3">MMP9</text>
</g>
<g>
<text x="1221.77" y="832.55" font-size="15" text-anchor="end" fill="#595959" stroke="#595959" stroke-width="0.3">0.8</text>
<text x="1221.77" y="863.03" font-size="15" text-anchor="end" fill="#595959" stroke="#595959" stroke-width="0.3">0.7</text>
<text x="1221.77" y="893.5" font-size="15" text-anchor="end" fill="#595959" stroke="#595959" stroke-width="0.3">0.6</text>
<text x="1221.77" y="923.98" font-size="15" text-anchor="end" fill="#595959" stroke="#595959" stroke-width="0.3">0.5</text>
<text x="1221.77" y="954.45" font-size="15" text-anchor="end" fill="#595959" stroke="#595959" stroke-width="0.3">0.4</text>
<text x="1221.77" y="984.93" font-size="15" text-anchor="end" fill="#595959" stroke="#595959" stroke-width="0.3">0.3</text>
<text x="1221.77" y="1015.4" font-size="15" text-anchor="end" fill="#595959" stroke="#595959" stroke-width="0.3">0.2</text>
<text x="1221.77" y="1045.87" font-size="15" text-anchor="end" fill="#595959" stroke="#595959" stroke-width="0.3">0.1</text>
<text x="1221.77" y="1076.35" font-size="15" text-anchor="end" fill="#595959" stroke="#595959" stroke-width="0.3">0</text>
<path d="M1269.15 1072.46V874.62H1302.06V1072.46" fill="none" stroke="#5aab50" stroke-width="5.2" stroke-linejoin="round"/>
<rect x="1266.55" y="1069.66" width="38.11" height="2.3" fill="#5aab50"/>
<path d="M1374.79 1072.46V1065.59H1408.04V1072.46" fill="none" stroke="#5caeed" stroke-width="5.2" stroke-linejoin="round"/>
<rect x="1372.19" y="1069.66" width="38.45" height="2.3" fill="#5caeed"/>
<rect x="1477.84" y="1066.38" width="38.79" height="6.08" rx="1.2" fill="#d80000"/>
<path d="M1586.08 1072.46V1065.59H1619.67V1072.46" fill="none" stroke="#5caeed" stroke-width="5.2" stroke-linejoin="round"/>
<rect x="1583.48" y="1069.66" width="38.79" height="2.3" fill="#5caeed"/>
<rect x="1689.46" y="1068.07" width="38.45" height="4.39" rx="1.2" fill="#d80000"/>
<line x1="1232.95" y1="1072.46" x2="1761.85" y2="1072.46" stroke="#d4d4d4" stroke-width="1.6"/>
<line x1="1232.95" y1="1071.66" x2="1232.95" y2="1119.36" stroke="#d4d4d4" stroke-width="1.6"/>
<line x1="1338.25" y1="1071.66" x2="1338.25" y2="1119.36" stroke="#d4d4d4" stroke-width="1.6"/>
<line x1="1549.88" y1="1071.66" x2="1549.88" y2="1119.36" stroke="#d4d4d4" stroke-width="1.6"/>
<line x1="1761.85" y1="1071.66" x2="1761.85" y2="1119.36" stroke="#d4d4d4" stroke-width="1.6"/>
<line x1="1286.11" y1="846.08" x2="1286.11" y2="903.28" stroke="#555555" stroke-width="3.3"/>
<rect x="1282.36" y="846.08" width="7.5" height="3" fill="#555555"/>
<rect x="1282.36" y="900.28" width="7.5" height="3" fill="#555555"/>
<line x1="1391.75" y1="1060.76" x2="1391.75" y2="1070.89" stroke="#555555" stroke-width="3.3"/>
<rect x="1388" y="1060.76" width="7.5" height="3" fill="#555555"/>
<rect x="1388" y="1067.89" width="7.5" height="3" fill="#555555"/>
<line x1="1497.4" y1="1066.52" x2="1497.4" y2="1071.22" stroke="#555555" stroke-width="3.3"/>
<rect x="1493.65" y="1066.52" width="7.5" height="3" fill="#555555"/>
<rect x="1493.65" y="1068.22" width="7.5" height="3" fill="#555555"/>
<line x1="1603.04" y1="1062.11" x2="1603.04" y2="1070.89" stroke="#555555" stroke-width="3.3"/>
<rect x="1599.29" y="1062.11" width="7.5" height="3" fill="#555555"/>
<rect x="1599.29" y="1067.89" width="7.5" height="3" fill="#555555"/>
<line x1="1709.36" y1="1068.21" x2="1709.36" y2="1071.56" stroke="#555555" stroke-width="3.3"/>
<rect x="1705.61" y="1068.21" width="7.5" height="3" fill="#555555"/>
<rect x="1705.61" y="1068.56" width="7.5" height="3" fill="#555555"/>
<text x="1285.6" y="1091.15" font-size="15" text-anchor="middle" fill="#595959" font-weight="700">CON</text>
<text x="1391.16" y="1091.15" font-size="15" text-anchor="middle" fill="#595959" font-weight="700">CON</text>
<text x="1496.98" y="1091.15" font-size="15" text-anchor="middle" fill="#595959" font-weight="700">BMP9</text>
<text x="1602.87" y="1091.15" font-size="15" text-anchor="middle" fill="#595959" font-weight="700">CON</text>
<text x="1706.86" y="1091.15" font-size="15" text-anchor="middle" fill="#595959" font-weight="700">BMP9</text>
<text x="1285.6" y="1115.19" font-size="15" text-anchor="middle" fill="#595959" font-weight="700">Day 0</text>
<text x="1444.07" y="1115.19" font-size="15" text-anchor="middle" fill="#595959" font-weight="700">Day 10.5</text>
<text x="1655.7" y="1115.19" font-size="15" text-anchor="middle" fill="#595959" font-weight="700" letter-spacing="-0.33">Day 21</text>
<text x="1484.53" y="803.57" font-size="22.5" text-anchor="middle" fill="#595959" stroke="#595959" stroke-width="0.3">MMP13</text>
</g>
<g>
<text x="1522.38" y="860.38" font-size="13.5" text-anchor="end" fill="#595959" stroke="#595959" stroke-width="0.3">0.035</text>
<text x="1522.38" y="878.38" font-size="13.5" text-anchor="end" fill="#595959" stroke="#595959" stroke-width="0.3">0.03</text>
<text x="1522.38" y="896.37" font-size="13.5" text-anchor="end" fill="#595959" stroke="#595959" stroke-width="0.3">0.025</text>
<text x="1522.38" y="914.37" font-size="13.5" text-anchor="end" fill="#595959" stroke="#595959" stroke-width="0.3">0.02</text>
<text x="1522.38" y="932.36" font-size="13.5" text-anchor="end" fill="#595959" stroke="#595959" stroke-width="0.3">0.015</text>
<text x="1522.38" y="950.35" font-size="13.5" text-anchor="end" fill="#595959" stroke="#595959" stroke-width="0.3">0.01</text>
<text x="1522.38" y="968.35" font-size="13.5" text-anchor="end" fill="#595959" stroke="#595959" stroke-width="0.3">0.005</text>
<text x="1522.38" y="986.34" font-size="13.5" text-anchor="end" fill="#595959" stroke="#595959" stroke-width="0.3">0</text>
<path d="M1551.28 982.49V906.86H1568.8V982.49" fill="none" stroke="#5caeed" stroke-width="3.2" stroke-linejoin="round"/>
<rect x="1549.68" y="980.79" width="20.72" height="1.2" fill="#5caeed"/>
<path d="M1608.17 982.49V945.8H1625.68V982.49" fill="none" stroke="#d80000" stroke-width="3.2" stroke-linejoin="round"/>
<rect x="1606.57" y="980.79" width="20.72" height="1.2" fill="#d80000"/>
<path d="M1665.39 982.49V910.59H1682.57V982.49" fill="none" stroke="#5caeed" stroke-width="3.2" stroke-linejoin="round"/>
<rect x="1663.79" y="980.79" width="20.38" height="1.2" fill="#5caeed"/>
<path d="M1722.62 982.49V964.43H1739.79V982.49" fill="none" stroke="#d80000" stroke-width="3.2" stroke-linejoin="round"/>
<rect x="1721.02" y="980.79" width="20.38" height="1.2" fill="#d80000"/>
<line x1="1531.6" y1="982.49" x2="1760.16" y2="982.49" stroke="#d4d4d4" stroke-width="1.6"/>
<line x1="1531.6" y1="981.69" x2="1531.6" y2="1024.55" stroke="#d4d4d4" stroke-width="1.6"/>
<line x1="1645.71" y1="981.69" x2="1645.71" y2="1024.55" stroke="#d4d4d4" stroke-width="1.6"/>
<line x1="1760.16" y1="981.69" x2="1760.16" y2="1024.55" stroke="#d4d4d4" stroke-width="1.6"/>
<line x1="1560.38" y1="862.14" x2="1560.38" y2="950.18" stroke="#555555" stroke-width="2.4"/>
<rect x="1556.68" y="862.14" width="7.4" height="2.3" fill="#555555"/>
<rect x="1556.68" y="947.88" width="7.4" height="2.3" fill="#555555"/>
<line x1="1616.93" y1="933.92" x2="1616.93" y2="957.29" stroke="#555555" stroke-width="2.4"/>
<rect x="1613.23" y="933.92" width="7.4" height="2.3" fill="#555555"/>
<rect x="1613.23" y="954.99" width="7.4" height="2.3" fill="#555555"/>
<line x1="1674.15" y1="874.33" x2="1674.15" y2="943.75" stroke="#555555" stroke-width="2.4"/>
<rect x="1670.45" y="874.33" width="7.4" height="2.3" fill="#555555"/>
<rect x="1670.45" y="941.45" width="7.4" height="2.3" fill="#555555"/>
<line x1="1731.37" y1="952.88" x2="1731.37" y2="974.9" stroke="#555555" stroke-width="2.4"/>
<rect x="1727.67" y="952.88" width="7.4" height="2.3" fill="#555555"/>
<rect x="1727.67" y="972.6" width="7.4" height="2.3" fill="#555555"/>
<text x="1560.13" y="998.68" font-size="13.3" text-anchor="middle" fill="#595959" font-weight="700">CON</text>
<text x="1617.18" y="998.68" font-size="13.3" text-anchor="middle" fill="#595959" font-weight="700">BMP9</text>
<text x="1674.32" y="998.68" font-size="13.3" text-anchor="middle" fill="#595959" font-weight="700">CON</text>
<text x="1729.54" y="998.68" font-size="13.3" text-anchor="middle" fill="#595959" font-weight="700">BMP9</text>
<text x="1588.65" y="1019.95" font-size="13.3" text-anchor="middle" fill="#595959" font-weight="700">Day 10.5</text>
<text x="1702.79" y="1019.95" font-size="13.3" text-anchor="middle" fill="#595959" font-weight="700" letter-spacing="-0.29">Day 21</text>
<path d="M1560.72 858.3L1561.12 849.77Q1561.32 845.77 1563.72 845.77H1614.94Q1617.34 845.77 1617.54 849.77L1617.94 858.3" fill="none" stroke="#3c3c3c" stroke-width="1.25"/>
<text transform="translate(1589.5 844.53) scale(0.92 1)" font-size="27.5" text-anchor="middle" fill="#111" stroke="#111" stroke-width="0.25">#</text>
<path d="M1673.47 869.81L1673.87 861.62Q1674.07 857.62 1676.47 857.62H1727.7Q1730.1 857.62 1730.3 861.62L1730.7 869.81" fill="none" stroke="#3c3c3c" stroke-width="1.25"/>
<text x="1702.13" y="862.46" font-size="22.5" letter-spacing="1.1" text-anchor="middle" fill="#000" font-weight="700">***</text>
</g>
<g>
<text x="24.72" y="1237.03" font-size="15" text-anchor="end" fill="#595959" stroke="#595959" stroke-width="0.3">10</text>
<text x="24.72" y="1261.48" font-size="15" text-anchor="end" fill="#595959" stroke="#595959" stroke-width="0.3">9</text>
<text x="24.72" y="1285.93" font-size="15" text-anchor="end" fill="#595959" stroke="#595959" stroke-width="0.3">8</text>
<text x="24.72" y="1310.38" font-size="15" text-anchor="end" fill="#595959" stroke="#595959" stroke-width="0.3">7</text>
<text x="24.72" y="1334.82" font-size="15" text-anchor="end" fill="#595959" stroke="#595959" stroke-width="0.3">6</text>
<text x="24.72" y="1359.27" font-size="15" text-anchor="end" fill="#595959" stroke="#595959" stroke-width="0.3">5</text>
<text x="24.72" y="1383.72" font-size="15" text-anchor="end" fill="#595959" stroke="#595959" stroke-width="0.3">4</text>
<text x="24.72" y="1408.17" font-size="15" text-anchor="end" fill="#595959" stroke="#595959" stroke-width="0.3">3</text>
<text x="24.72" y="1432.61" font-size="15" text-anchor="end" fill="#595959" stroke="#595959" stroke-width="0.3">2</text>
<text x="24.72" y="1457.06" font-size="15" text-anchor="end" fill="#595959" stroke="#595959" stroke-width="0.3">1</text>
<text x="24.72" y="1481.51" font-size="15" text-anchor="end" fill="#595959" stroke="#595959" stroke-width="0.3">0</text>
<path d="M73.45 1477.95V1330.91H107.37V1477.95" fill="none" stroke="#5aab50" stroke-width="5.2" stroke-linejoin="round"/>
<rect x="70.85" y="1475.15" width="39.12" height="2.3" fill="#5aab50"/>
<path d="M181.12 1477.95V1458.9H215.38V1477.95" fill="none" stroke="#5caeed" stroke-width="5.2" stroke-linejoin="round"/>
<rect x="178.52" y="1475.15" width="39.46" height="2.3" fill="#5caeed"/>
<path d="M289.48 1477.95V1471.09H323.06V1477.95" fill="none" stroke="#d80000" stroke-width="5.2" stroke-linejoin="round"/>
<rect x="286.88" y="1475.15" width="38.79" height="2.3" fill="#d80000"/>
<path d="M397.49 1477.95V1456.53H431.75V1477.95" fill="none" stroke="#5caeed" stroke-width="5.2" stroke-linejoin="round"/>
<rect x="394.89" y="1475.15" width="39.46" height="2.3" fill="#5caeed"/>
<path d="M505.5 1477.95V1469.73H539.43V1477.95" fill="none" stroke="#d80000" stroke-width="5.2" stroke-linejoin="round"/>
<rect x="502.9" y="1475.15" width="39.12" height="2.3" fill="#d80000"/>
<line x1="35.89" y1="1477.95" x2="576.64" y2="1477.95" stroke="#d4d4d4" stroke-width="1.6"/>
<line x1="35.89" y1="1477.15" x2="35.89" y2="1524.86" stroke="#d4d4d4" stroke-width="1.6"/>
<line x1="144.58" y1="1477.15" x2="144.58" y2="1524.86" stroke="#d4d4d4" stroke-width="1.6"/>
<line x1="360.27" y1="1477.15" x2="360.27" y2="1524.86" stroke="#d4d4d4" stroke-width="1.6"/>
<line x1="576.64" y1="1477.15" x2="576.64" y2="1524.86" stroke="#d4d4d4" stroke-width="1.6"/>
<line x1="90.41" y1="1262.08" x2="90.41" y2="1400.2" stroke="#555555" stroke-width="3.3"/>
<rect x="86.66" y="1262.08" width="7.5" height="3" fill="#555555"/>
<rect x="86.66" y="1397.2" width="7.5" height="3" fill="#555555"/>
<line x1="198.42" y1="1452.71" x2="198.42" y2="1466.22" stroke="#555555" stroke-width="3.3"/>
<rect x="194.67" y="1452.71" width="7.5" height="3" fill="#555555"/>
<rect x="194.67" y="1463.22" width="7.5" height="3" fill="#555555"/>
<line x1="306.78" y1="1467.61" x2="306.78" y2="1474.69" stroke="#555555" stroke-width="3.3"/>
<rect x="303.03" y="1467.61" width="7.5" height="3" fill="#555555"/>
<rect x="303.03" y="1471.69" width="7.5" height="3" fill="#555555"/>
<line x1="414.79" y1="1449.66" x2="414.79" y2="1464.19" stroke="#555555" stroke-width="3.3"/>
<rect x="411.04" y="1449.66" width="7.5" height="3" fill="#555555"/>
<rect x="411.04" y="1461.19" width="7.5" height="3" fill="#555555"/>
<line x1="522.47" y1="1465.92" x2="522.47" y2="1473.67" stroke="#555555" stroke-width="3.3"/>
<rect x="518.72" y="1465.92" width="7.5" height="3" fill="#555555"/>
<rect x="518.72" y="1470.67" width="7.5" height="3" fill="#555555"/>
<text x="90.24" y="1496.64" font-size="15" text-anchor="middle" fill="#595959" font-weight="700">CON</text>
<text x="198.51" y="1496.64" font-size="15" text-anchor="middle" fill="#595959" font-weight="700">CON</text>
<text x="306.35" y="1496.64" font-size="15" text-anchor="middle" fill="#595959" font-weight="700">BMP9</text>
<text x="414.37" y="1496.64" font-size="15" text-anchor="middle" fill="#595959" font-weight="700">CON</text>
<text x="520.55" y="1496.64" font-size="15" text-anchor="middle" fill="#595959" font-weight="700">BMP9</text>
<text x="90.24" y="1520.68" font-size="15" text-anchor="middle" fill="#595959" font-weight="700">Day 0</text>
<text x="252.43" y="1520.68" font-size="15" text-anchor="middle" fill="#595959" font-weight="700">Day 10.5</text>
<text x="468.29" y="1520.68" font-size="15" text-anchor="middle" fill="#595959" font-weight="700" letter-spacing="-0.33">Day 21</text>
<path d="M199.78 1448.67L200.18 1440.48Q200.38 1436.48 202.78 1436.48H303.1Q305.5 1436.48 305.7 1440.48L306.1 1448.67" fill="none" stroke="#3c3c3c" stroke-width="1.25"/>
<text x="247.73" y="1440.3" font-size="22.5" letter-spacing="1.1" text-anchor="middle" fill="#000" font-weight="700">***</text>
<path d="M414.79 1444.27L415.19 1435.74Q415.39 1431.74 417.79 1431.74H517.77Q520.17 1431.74 520.37 1435.74L520.77 1444.27" fill="none" stroke="#3c3c3c" stroke-width="1.25"/>
<text x="462.41" y="1435.56" font-size="22.5" letter-spacing="1.1" text-anchor="middle" fill="#000" font-weight="700">***</text>
<text x="294.59" y="1207.71" font-size="22.5" text-anchor="middle" fill="#595959" stroke="#595959" stroke-width="0.3">TIMP1</text>
</g>
<g>
<text x="635.71" y="1238.39" font-size="15" text-anchor="end" fill="#595959" font-weight="700">0.3</text>
<text x="635.71" y="1279.3" font-size="15" text-anchor="end" fill="#595959" font-weight="700">0.25</text>
<text x="635.71" y="1320.22" font-size="15" text-anchor="end" fill="#595959" font-weight="700">0.2</text>
<text x="635.71" y="1361.13" font-size="15" text-anchor="end" fill="#595959" font-weight="700">0.15</text>
<text x="635.71" y="1402.05" font-size="15" text-anchor="end" fill="#595959" font-weight="700">0.1</text>
<text x="635.71" y="1442.96" font-size="15" text-anchor="end" fill="#595959" font-weight="700">0.05</text>
<text x="635.71" y="1483.88" font-size="15" text-anchor="end" fill="#595959" font-weight="700">0</text>
<path d="M683.42 1479.65V1372.55H716.33V1479.65" fill="none" stroke="#5aab50" stroke-width="5.2" stroke-linejoin="round"/>
<rect x="680.82" y="1476.85" width="38.11" height="2.3" fill="#5aab50"/>
<path d="M788.39 1479.65V1419.28H821.3V1479.65" fill="none" stroke="#5caeed" stroke-width="5.2" stroke-linejoin="round"/>
<rect x="785.79" y="1476.85" width="38.11" height="2.3" fill="#5caeed"/>
<path d="M893.36 1479.65V1466.69H926.6V1479.65" fill="none" stroke="#d80000" stroke-width="5.2" stroke-linejoin="round"/>
<rect x="890.76" y="1476.85" width="38.45" height="2.3" fill="#d80000"/>
<path d="M998.66 1479.65V1416.23H1031.23V1479.65" fill="none" stroke="#5caeed" stroke-width="5.2" stroke-linejoin="round"/>
<rect x="996.06" y="1476.85" width="37.77" height="2.3" fill="#5caeed"/>
<path d="M1103.63 1479.65V1465.33H1136.88V1479.65" fill="none" stroke="#d80000" stroke-width="5.2" stroke-linejoin="round"/>
<rect x="1101.03" y="1476.85" width="38.45" height="2.3" fill="#d80000"/>
<line x1="646.89" y1="1479.65" x2="1172.4" y2="1479.65" stroke="#d4d4d4" stroke-width="1.6"/>
<line x1="646.89" y1="1478.85" x2="646.89" y2="1527.23" stroke="#d4d4d4" stroke-width="1.6"/>
<line x1="752.19" y1="1478.85" x2="752.19" y2="1527.23" stroke="#d4d4d4" stroke-width="1.6"/>
<line x1="962.46" y1="1478.85" x2="962.46" y2="1527.23" stroke="#d4d4d4" stroke-width="1.6"/>
<line x1="1172.4" y1="1478.85" x2="1172.4" y2="1527.23" stroke="#d4d4d4" stroke-width="1.6"/>
<line x1="700.05" y1="1276.98" x2="700.05" y2="1468.26" stroke="#555555" stroke-width="3.3"/>
<rect x="696.3" y="1276.98" width="7.5" height="3" fill="#555555"/>
<rect x="696.3" y="1465.26" width="7.5" height="3" fill="#555555"/>
<line x1="805.35" y1="1386.35" x2="805.35" y2="1451.66" stroke="#555555" stroke-width="3.3"/>
<rect x="801.6" y="1386.35" width="7.5" height="3" fill="#555555"/>
<rect x="801.6" y="1448.66" width="7.5" height="3" fill="#555555"/>
<line x1="910.32" y1="1460.5" x2="910.32" y2="1472.66" stroke="#555555" stroke-width="3.3"/>
<rect x="906.57" y="1460.5" width="7.5" height="3" fill="#555555"/>
<rect x="906.57" y="1469.66" width="7.5" height="3" fill="#555555"/>
<line x1="1015.29" y1="1386.35" x2="1015.29" y2="1446.59" stroke="#555555" stroke-width="3.3"/>
<rect x="1011.54" y="1386.35" width="7.5" height="3" fill="#555555"/>
<rect x="1011.54" y="1443.59" width="7.5" height="3" fill="#555555"/>
<line x1="1120.25" y1="1458.81" x2="1120.25" y2="1471.98" stroke="#555555" stroke-width="3.3"/>
<rect x="1116.5" y="1458.81" width="7.5" height="3" fill="#555555"/>
<rect x="1116.5" y="1468.98" width="7.5" height="3" fill="#555555"/>
<text x="699.54" y="1499.01" font-size="15" text-anchor="middle" fill="#595959" font-weight="700">CON</text>
<text x="804.76" y="1499.01" font-size="15" text-anchor="middle" fill="#595959" font-weight="700">CON</text>
<text x="909.9" y="1499.01" font-size="15" text-anchor="middle" fill="#595959" font-weight="700">BMP9</text>
<text x="1014.95" y="1499.01" font-size="15" text-anchor="middle" fill="#595959" font-weight="700">CON</text>
<text x="1117.92" y="1499.01" font-size="15" text-anchor="middle" fill="#595959" font-weight="700">BMP9</text>
<text x="699.54" y="1522.72" font-size="15" text-anchor="middle" fill="#595959" font-weight="700">Day 0</text>
<text x="857.33" y="1522.72" font-size="15" text-anchor="middle" fill="#595959" font-weight="700">Day 10.5</text>
<text x="1067.27" y="1522.72" font-size="15" text-anchor="middle" fill="#595959" font-weight="700" letter-spacing="-0.33">Day 21</text>
<path d="M804.68 1380.95L805.08 1372.42Q805.28 1368.42 807.68 1368.42H907.66Q910.06 1368.42 910.26 1372.42L910.66 1380.95" fill="none" stroke="#3c3c3c" stroke-width="1.25"/>
<text x="852.97" y="1372.92" font-size="22.5" letter-spacing="1.1" text-anchor="middle" fill="#000" font-weight="700">***</text>
<path d="M1015.96 1380.95L1016.36 1372.42Q1016.56 1368.42 1018.96 1368.42H1119.29Q1121.69 1368.42 1121.89 1372.42L1122.29 1380.95" fill="none" stroke="#3c3c3c" stroke-width="1.25"/>
<text x="1063.92" y="1372.92" font-size="22.5" letter-spacing="1.1" text-anchor="middle" fill="#000" font-weight="700">***</text>
<text x="893.39" y="1208.73" font-size="22.5" text-anchor="middle" fill="#595959" stroke="#595959" stroke-width="0.3">TIMP2</text>
</g>
<g>
<text x="1230.24" y="1234.66" font-size="15" text-anchor="end" fill="#595959" stroke="#595959" stroke-width="0.3">0.45</text>
<text x="1230.24" y="1261.98" font-size="15" text-anchor="end" fill="#595959" stroke="#595959" stroke-width="0.3">0.4</text>
<text x="1230.24" y="1289.29" font-size="15" text-anchor="end" fill="#595959" stroke="#595959" stroke-width="0.3">0.35</text>
<text x="1230.24" y="1316.61" font-size="15" text-anchor="end" fill="#595959" stroke="#595959" stroke-width="0.3">0.3</text>
<text x="1230.24" y="1343.92" font-size="15" text-anchor="end" fill="#595959" stroke="#595959" stroke-width="0.3">0.25</text>
<text x="1230.24" y="1371.23" font-size="15" text-anchor="end" fill="#595959" stroke="#595959" stroke-width="0.3">0.2</text>
<text x="1230.24" y="1398.55" font-size="15" text-anchor="end" fill="#595959" stroke="#595959" stroke-width="0.3">0.15</text>
<text x="1230.24" y="1425.86" font-size="15" text-anchor="end" fill="#595959" stroke="#595959" stroke-width="0.3">0.1</text>
<text x="1230.24" y="1453.18" font-size="15" text-anchor="end" fill="#595959" stroke="#595959" stroke-width="0.3">0.05</text>
<text x="1230.24" y="1480.49" font-size="15" text-anchor="end" fill="#595959" stroke="#595959" stroke-width="0.3">0</text>
<path d="M1277.27 1476.94V1276.39H1310.52V1476.94" fill="none" stroke="#5aab50" stroke-width="5.2" stroke-linejoin="round"/>
<rect x="1274.67" y="1474.14" width="38.45" height="2.3" fill="#5aab50"/>
<path d="M1382.92 1476.94V1400.66H1415.49V1476.94" fill="none" stroke="#5caeed" stroke-width="5.2" stroke-linejoin="round"/>
<rect x="1380.32" y="1474.14" width="37.77" height="2.3" fill="#5caeed"/>
<path d="M1487.89 1476.94V1397.95H1520.79V1476.94" fill="none" stroke="#d80000" stroke-width="5.2" stroke-linejoin="round"/>
<rect x="1485.29" y="1474.14" width="38.11" height="2.3" fill="#d80000"/>
<path d="M1593.19 1476.94V1389.15H1626.44V1476.94" fill="none" stroke="#5caeed" stroke-width="5.2" stroke-linejoin="round"/>
<rect x="1590.59" y="1474.14" width="38.45" height="2.3" fill="#5caeed"/>
<path d="M1698.16 1476.94V1380H1731.07V1476.94" fill="none" stroke="#d80000" stroke-width="5.2" stroke-linejoin="round"/>
<rect x="1695.56" y="1474.14" width="38.11" height="2.3" fill="#d80000"/>
<line x1="1241.75" y1="1476.94" x2="1767.94" y2="1476.94" stroke="#d4d4d4" stroke-width="1.6"/>
<line x1="1241.75" y1="1476.14" x2="1241.75" y2="1523.84" stroke="#d4d4d4" stroke-width="1.6"/>
<line x1="1346.72" y1="1476.14" x2="1346.72" y2="1523.84" stroke="#d4d4d4" stroke-width="1.6"/>
<line x1="1556.65" y1="1476.14" x2="1556.65" y2="1523.84" stroke="#d4d4d4" stroke-width="1.6"/>
<line x1="1767.94" y1="1476.14" x2="1767.94" y2="1523.84" stroke="#d4d4d4" stroke-width="1.6"/>
<line x1="1294.24" y1="1250.9" x2="1294.24" y2="1302.34" stroke="#555555" stroke-width="3.3"/>
<rect x="1290.49" y="1250.9" width="7.5" height="3" fill="#555555"/>
<rect x="1290.49" y="1299.34" width="7.5" height="3" fill="#555555"/>
<line x1="1399.2" y1="1377.88" x2="1399.2" y2="1422.88" stroke="#555555" stroke-width="3.3"/>
<rect x="1395.45" y="1377.88" width="7.5" height="3" fill="#555555"/>
<rect x="1395.45" y="1419.88" width="7.5" height="3" fill="#555555"/>
<line x1="1504.51" y1="1383.64" x2="1504.51" y2="1412.05" stroke="#555555" stroke-width="3.3"/>
<rect x="1500.76" y="1383.64" width="7.5" height="3" fill="#555555"/>
<rect x="1500.76" y="1409.05" width="7.5" height="3" fill="#555555"/>
<line x1="1609.48" y1="1365.35" x2="1609.48" y2="1412.72" stroke="#555555" stroke-width="3.3"/>
<rect x="1605.73" y="1365.35" width="7.5" height="3" fill="#555555"/>
<rect x="1605.73" y="1409.72" width="7.5" height="3" fill="#555555"/>
<line x1="1714.78" y1="1368.74" x2="1714.78" y2="1391.39" stroke="#555555" stroke-width="3.3"/>
<rect x="1711.03" y="1368.74" width="7.5" height="3" fill="#555555"/>
<rect x="1711.03" y="1388.39" width="7.5" height="3" fill="#555555"/>
<text x="1294.24" y="1495.63" font-size="15" text-anchor="middle" fill="#595959" font-weight="700">CON</text>
<text x="1399.2" y="1495.63" font-size="15" text-anchor="middle" fill="#595959" font-weight="700">CON</text>
<text x="1504.17" y="1495.63" font-size="15" text-anchor="middle" fill="#595959" font-weight="700">BMP9</text>
<text x="1609.48" y="1495.63" font-size="15" text-anchor="middle" fill="#595959" font-weight="700">CON</text>
<text x="1713.12" y="1495.63" font-size="15" text-anchor="middle" fill="#595959" font-weight="700">BMP9</text>
<text x="1294.24" y="1519.67" font-size="15" text-anchor="middle" fill="#595959" font-weight="700">Day 0</text>
<text x="1451.69" y="1519.67" font-size="15" text-anchor="middle" fill="#595959" font-weight="700">Day 10.5</text>
<text x="1662.13" y="1519.67" font-size="15" text-anchor="middle" fill="#595959" font-weight="700" letter-spacing="-0.33">Day 21</text>
<text x="1487.58" y="1205.34" font-size="22.5" text-anchor="middle" fill="#595959" stroke="#595959" stroke-width="0.3">TIMP3</text>
</g>
</svg>
</body>
</html>
